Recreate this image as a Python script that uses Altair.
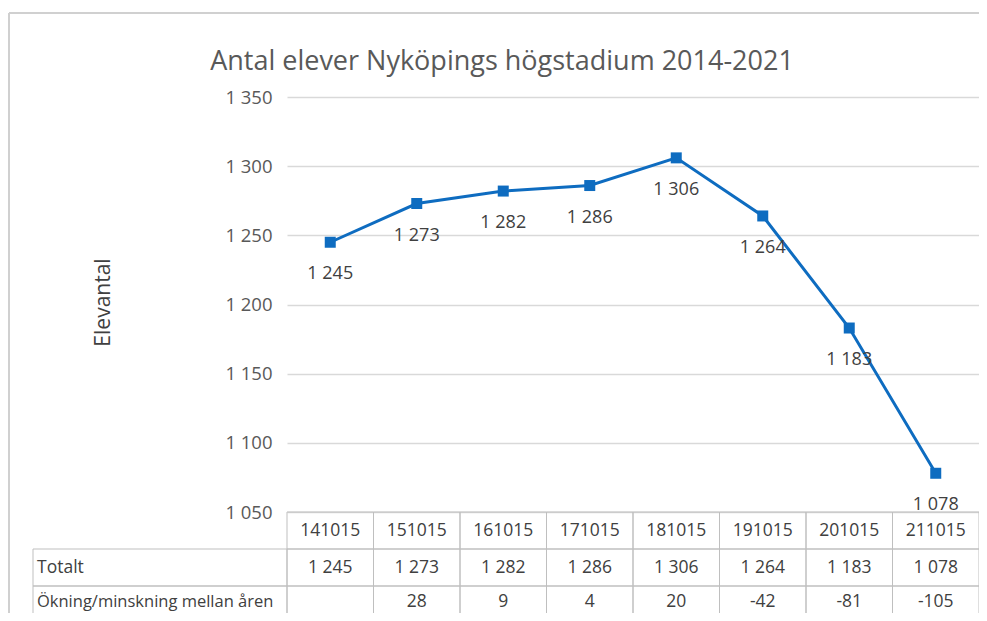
import altair as alt
import pandas as pd

# ---- data ----
dates = ["141015", "151015", "161015", "171015", "181015", "191015", "201015", "211015"]
totals = [1245, 1273, 1282, 1286, 1306, 1264, 1183, 1078]
changes = ["", "28", "9", "4", "20", "-42", "-81", "-105"]
y_ticks = [1050, 1100, 1150, 1200, 1250, 1300, 1350]
title_text = "Antal elever Nyköpings högstadium 2014-2021"
y_title = "Elevantal"
row_labels = ["Totalt", "Ökning/minskning mellan åren"]

df = pd.DataFrame({
    "date": dates,
    "total": totals,
    "label": [f"{v:,}".replace(",", " ") for v in totals],
    "change": changes,
})

FONT = "Open Sans"
W, H = 692, 415
BLUE = "#0e6cc0"
GRID = "#d9d9d9"
TABLE = "#bfbfbf"
TXT = "#404040"

xs = alt.X("date:N", sort=dates, axis=None,
           scale=alt.Scale(type="band", paddingInner=0, paddingOuter=0))
ys = alt.Y("total:Q",
           scale=alt.Scale(domain=[1050, 1350], nice=False, zero=False),
           axis=alt.Axis(values=y_ticks, title=y_title, domain=False, ticks=False,
                         gridColor=GRID, gridWidth=1.5, labelFont=FONT, labelFontSize=18.5,
                         labelColor="#595959", labelPadding=15,
                         labelExpr="replace(format(datum.value, ','), ',', ' ')",
                         titleFont=FONT, titleFontSize=21, titleFontWeight="normal",
                         titleColor="#404040", titleX=-184, titleY=205,
                         titleAngle=-90, titleBaseline="middle", titleAlign="center"))

base = alt.Chart(df)
one = pd.DataFrame({"k": [0]})

# table cells under the plot (data table)
cell = dict(fillOpacity=0, stroke=TABLE, strokeWidth=1)
hdr = base.mark_rect(**cell).encode(x=xs, y=alt.value(H), y2=alt.value(H + 37))
row1 = base.mark_rect(**cell).encode(x=xs, y=alt.value(H + 37), y2=alt.value(H + 74))
row2 = base.mark_rect(**cell).encode(x=xs, y=alt.value(H + 74), y2=alt.value(H + 115))
lab1 = alt.Chart(one).mark_rect(**cell).encode(
    x=alt.value(-254), x2=alt.value(0), y=alt.value(H + 37), y2=alt.value(H + 74))
lab2 = alt.Chart(one).mark_rect(**cell).encode(
    x=alt.value(-254), x2=alt.value(0), y=alt.value(H + 74), y2=alt.value(H + 115))

tfont = dict(font=FONT, fontSize=17.5, color=TXT, baseline="middle")
hdr_txt = base.mark_text(**tfont).encode(x=xs, y=alt.value(H + 19), text="date:N")
row1_txt = base.mark_text(**tfont).encode(x=xs, y=alt.value(H + 56), text="label:N")
row2_txt = base.mark_text(**tfont).encode(x=xs, y=alt.value(H + 90), text="change:N")
lab1_txt = alt.Chart(one).mark_text(align="left", **tfont).encode(
    x=alt.value(-250), y=alt.value(H + 56), text=alt.value(row_labels[0]))
lab2_txt = alt.Chart(one).mark_text(align="left", font=FONT, fontSize=16.5, color=TXT,
                                    baseline="middle").encode(
    x=alt.value(-250), y=alt.value(H + 90), text=alt.value(row_labels[1]))

# outer frame
frame_l = alt.Chart(one).mark_rule(color="#d0d0d0", strokeWidth=2).encode(
    x=alt.value(-278), y=alt.value(-84), y2=alt.value(H + 120))
frame_t = alt.Chart(one).mark_rule(color="#d0d0d0", strokeWidth=2).encode(
    x=alt.value(-278), x2=alt.value(W + 10), y=alt.value(-84))

# title
title = alt.Chart(one).mark_text(font=FONT, fontSize=27, color="#595959",
                                 baseline="alphabetic", align="center").encode(
    x=alt.value(215), y=alt.value(-27), text=alt.value(title_text))

line = base.mark_line(color=BLUE, strokeWidth=3).encode(x=xs, y=ys)
pts = base.mark_point(shape="square", filled=True, size=121, color=BLUE, opacity=1).encode(x=xs, y=ys)
lbl = base.mark_text(font=FONT, fontSize=18, color=TXT, baseline="middle", dy=32).encode(
    x=xs, y=ys, text="label:N")

chart = alt.layer(
    frame_l, frame_t, title,
    hdr, row1, row2, lab1, lab2,
    hdr_txt, row1_txt, row2_txt, lab1_txt, lab2_txt,
    line, pts, lbl,
).properties(
    width=W, height=H,
    autosize=alt.AutoSizeParams(type="none"),
    padding={"left": 279, "top": 89, "right": 0, "bottom": 101},
    background="white",
).configure_view(strokeWidth=0)

chart.save("out.html", embed_options={"renderer": "svg", "actions": False})
